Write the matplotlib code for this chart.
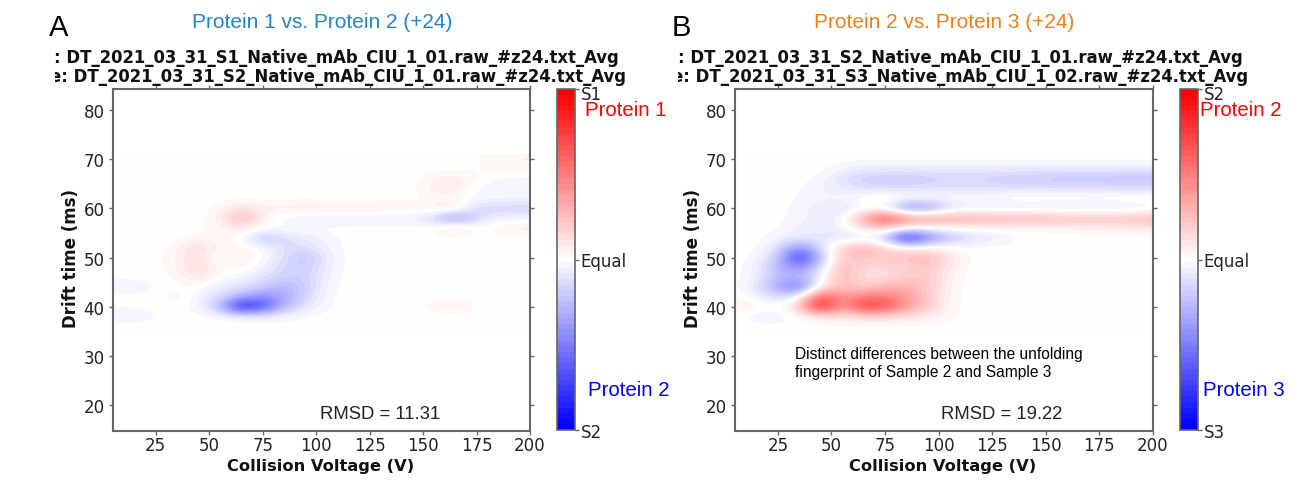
import numpy as np
import matplotlib
matplotlib.use("Agg")
import matplotlib.pyplot as plt
from matplotlib.colors import ListedColormap
from matplotlib.transforms import Bbox, ScaledTranslation

W, H = 1293, 485

voltage = [5, 15, 25, 35, 45, 55, 65, 75, 85, 95, 105, 115, 125, 135, 145, 155, 165, 175, 185, 195]
drift = [36, 38, 40, 42, 44, 46, 48, 50, 52, 54, 56, 58, 60, 62, 64, 66, 68, 70]
x_ticks = [25, 50, 75, 100, 125, 150, 175, 200]
y_ticks = [20, 30, 40, 50, 60, 70, 80]

diff_a = [
    [0, 0, 0, 0, 0, 0, 0, 0, 0, 0, 0, 0, 0, 0, 0, 0, 0, 0, 0, 0],
    [-5, -5, -2, 0, 0, -1, -3, -4, -3, -1, 0, 0, 0, 0, 0, 0, 0, 0, 0, 0],
    [-1, -1, 0, 0, -3, -25, -92, -72, -28, -10, -2, 0, 0, 0, 0, 4, 6, 2, 0, 0],
    [0, 0, 0, 6, -5, -12, -30, -45, -35, -16, -2, 0, 0, 0, 0, 0, 0, 0, 0, 0],
    [-6, -5, -2, 0, 2, -9, -9, -20, -28, -20, -3, 0, 0, 0, 0, 0, 0, 0, 0, 0],
    [0, 0, 0, 2, 11, 0, -5, -10, -18, -18, -5, 0, 0, 0, 0, 0, 0, 0, 0, 0],
    [0, 0, 0, 5, 17, 2, 5, -6, -15, -20, -6, 0, 0, 0, 0, 0, 0, 0, 0, 0],
    [0, 0, 0, 5, 13, -5, 10, 0, -12, -25, -8, 0, 0, 0, 0, 0, 0, 0, 0, 0],
    [0, 0, 0, 3, 17, 3, 3, -3, -12, -12, -4, 0, 0, 0, 0, 0, 0, 0, 0, 0],
    [0, 0, 0, 0, 3, 3, 0, -24, -14, -8, -4, 0, 0, 0, 0, 0, 0, 0, 0, 0],
    [0, 0, 0, 0, 0, 3, 10, 2, 0, 0, 0, 0, 0, 0, 0, 3, 14, 1, 4, 9],
    [0, 0, 0, 0, 0, 6, 30, 6, -5, -7, -7, -7, -6, -6, -5, -18, -46, -16, -5, -5],
    [0, 0, 0, 0, 0, 3, 12, 7, 8, 10, 8, 7, 7, 5, 4, 10, 12, -16, -16, -18],
    [0, 0, 0, 0, 0, 0, 0, 0, 0, 0, 0, 0, 0, 0, 0, 1, 2, -2, -2, -3],
    [0, 0, 0, 0, 0, 0, 0, 0, 0, 0, 0, 0, 0, 0, 0, 8, 10, -4, -2, -3],
    [0, 0, 0, 0, 0, 0, 0, 0, 0, 0, 0, 0, 0, 0, 0, 5, 9, 2, -3, -4],
    [0, 0, 0, 0, 0, 0, 0, 0, 0, 0, 0, 0, 0, 0, 0, 0, 0, 1, 4, 5],
    [0, 0, 0, 0, 0, 0, 0, 0, 0, 0, 0, 0, 0, 0, 0, 0, 0, 1, 4, 5],
]

diff_b = [
    [0, 0, 0, 0, 0, 0, 0, 0, 0, 0, 0, 0, 0, 0, 0, 0, 0, 0, 0, 0],
    [0, -5, -6, 0, 8, 10, 12, 14, 10, 8, 3, 0, 0, 0, 0, 0, 0, 0, 0, 0],
    [8, 4, 0, 20, 95, 35, 80, 72, 40, 20, 3, 0, 0, 0, 0, 0, 0, 0, 0, 0],
    [2, -3, -15, -5, 70, 38, 50, 52, 40, 20, 3, 0, 0, 0, 0, 0, 0, 0, 0, 0],
    [0, -10, -35, -58, 5, 25, 18, 28, 30, 22, 4, 0, 0, 0, 0, 0, 0, 0, 0, 0],
    [0, -4, -25, -30, -3, 30, 10, 12, 20, 22, 5, 0, 0, 0, 0, 0, 0, 0, 0, 0],
    [0, -5, -28, -45, -15, 30, 15, 14, 16, 22, 8, 0, 0, 0, 0, 0, 0, 0, 0, 0],
    [0, -2, -18, -85, -25, 22, 22, 22, 25, 30, 12, 0, 0, 0, 0, 0, 0, 0, 0, 0],
    [0, 0, -10, -45, -12, 20, 30, 16, 5, 4, 2, 0, 0, 0, 0, 0, 0, 0, 0, 0],
    [0, 0, -4, -8, -8, -15, -8, -20, -92, -50, -25, -15, -8, -3, 0, 0, 0, 0, 0, 0],
    [0, 0, -1, -6, -8, -4, 12, 22, 4, 2, 3, 3, 3, 3, 3, 3, 4, 5, 6, 8],
    [0, 0, 0, -4, -6, -6, 34, 72, 46, 40, 36, 34, 32, 30, 30, 28, 26, 26, 26, 28],
    [0, 0, 0, -3, -8, -12, -5, -8, -46, -44, -15, -10, -12, -10, -10, -12, -12, -12, -12, -8],
    [0, 0, 0, -2, -4, -3, 4, 8, 2, 0, 0, 0, 0, 4, 4, 4, 4, 3, 5, 5],
    [0, 0, 0, -1, -5, -8, -13, -13, -13, -12, -11, -11, -11, -12, -12, -12, -12, -12, -13, -13],
    [0, 0, 0, 0, -3, -12, -18, -20, -20, -18, -16, -16, -18, -20, -20, -23, -23, -23, -24, -24],
    [0, 0, 0, 0, 0, -4, -8, -8, -8, -8, -8, -8, -8, -8, -8, -8, -8, -8, -8, -8],
    [0, 0, 0, 0, 0, 0, 0, 0, 0, 0, 0, 0, 0, 0, 0, 0, 0, 0, 0, 0],
]


def box(l, t, r, b):
    return [l / W, 1 - b / H, (r - l) / W, (b - t) / H]


def put(x, y, s, **kw):
    return fig.text(x / W, 1 - y / H, s, **kw)


cmap = ListedColormap(plt.get_cmap("bwr")(np.linspace(0, 1, 61)))
GRAY = "#666666"
SANS = "Liberation Sans"

fig = plt.figure(figsize=(W / 100, H / 100), dpi=100)

panels = [
    dict(grid=diff_a, ax=(113, 90, 530, 432), cb=(557, 90, 575, 431), letter="A", lx=49,
         title="Protein 1 vs. Protein 2 (+24)", tx=322, tcol="#1F86C8",
         l1=": DT_2021_03_31_S1_Native_mAb_CIU_1_01.raw_#z24.txt_Avg", l1x=54,
         l2="e: DT_2021_03_31_S2_Native_mAb_CIU_1_01.raw_#z24.txt_Avg", l2x=50, clip=55,
         top="S1", bot="S2", p1="Protein 1", p2="Protein 2", p1x=585, p2x=588,
         rmsd="RMSD = 11.31", rx=380, ylx=71),
    dict(grid=diff_b, ax=(735, 90, 1153, 432), cb=(1180, 90, 1198, 431), letter="B", lx=672,
         title="Protein 2 vs. Protein 3 (+24)", tx=944, tcol="#F07F1A",
         l1=": DT_2021_03_31_S2_Native_mAb_CIU_1_01.raw_#z24.txt_Avg", l1x=678,
         l2="e: DT_2021_03_31_S3_Native_mAb_CIU_1_02.raw_#z24.txt_Avg", l2x=672, clip=678,
         top="S2", bot="S3", p1="Protein 2", p2="Protein 3", p1x=1200, p2x=1203,
         rmsd="RMSD = 19.22", rx=1002, ylx=693),
]

for p in panels:
    ax = fig.add_axes(box(*p["ax"]))
    data = np.array(p["grid"]) / 100
    im = ax.imshow(data, origin="lower", aspect="auto", cmap=cmap, vmin=-1, vmax=1,
                   extent=[voltage[0] - 5, voltage[-1] + 5, drift[0] - 1, drift[-1] + 1],
                   interpolation="bicubic", interpolation_stage="data")
    ax.set_xlim(5, 200)
    ax.set_ylim(14.7, 84.3)
    ax.set_xticks(x_ticks)
    ax.set_yticks(y_ticks)
    ax.tick_params(top=True, right=True, labelsize=12, length=3, width=1, color=GRAY,
                   labelcolor="#222222")
    ax.tick_params(axis="x", pad=0.5)
    ax.tick_params(axis="y", pad=3)
    for s in ax.spines.values():
        s.set_color(GRAY)
        s.set_linewidth(1.5)

    cax = fig.add_axes(box(*p["cb"]))
    cb = fig.colorbar(im, cax=cax)
    cb.set_ticks([-1, 0, 1], labels=[p["bot"], "Equal", p["top"]])
    cax.tick_params(labelsize=12, length=3, width=1, color=GRAY, labelcolor="#222222", pad=1)
    cb.outline.set_edgecolor(GRAY)
    cb.outline.set_linewidth(1.2)
    top_label = cax.get_yticklabels()[-1]
    top_label.set_transform(top_label.get_transform() + ScaledTranslation(0, -3 / 100, fig.dpi_scale_trans))

    put(p["lx"], 28, p["letter"], family=SANS, fontsize=21, ha="left", va="center", color="black")
    put(p["tx"], 23, p["title"], family=SANS, fontsize=15, ha="center", va="center", color=p["tcol"])
    put(p["l1x"], 58, p["l1"], fontsize=11.9, fontweight="bold", ha="left", va="center", color="#111111")
    t2 = put(p["l2x"], 77, p["l2"], fontsize=11.9, fontweight="bold", ha="left", va="center", color="#111111")
    t2.set_clip_box(Bbox([[p["clip"], 0], [W, H]]))
    t2.set_clip_on(True)
    put(p["p1x"], 111, p["p1"], family=SANS, fontsize=14.7, ha="left", va="center", color="#FF0000")
    put(p["p2x"], 390, p["p2"], family=SANS, fontsize=14.7, ha="left", va="center", color="#0000FF")
    put(p["rx"], 415, p["rmsd"], family=SANS, fontsize=13.3, ha="center", va="center", color="#222222")
    put((p["ax"][0] + p["ax"][2]) / 2 - 1, 467, "Collision Voltage (V)", fontsize=11.7, fontweight="bold",
        ha="center", va="center", color="#111111")
    put(p["ylx"], 259, "Drift time (ms)", fontsize=12, fontweight="bold", rotation=90,
        ha="center", va="center", color="#111111")

put(795, 355, "Distinct differences between the unfolding", family=SANS, fontsize=11.2, ha="left", va="center", color="black")
put(795, 373, "fingerprint of Sample 2 and Sample 3", family=SANS, fontsize=11.2, ha="left", va="center", color="black")

fig.savefig("out.png", dpi=100)
